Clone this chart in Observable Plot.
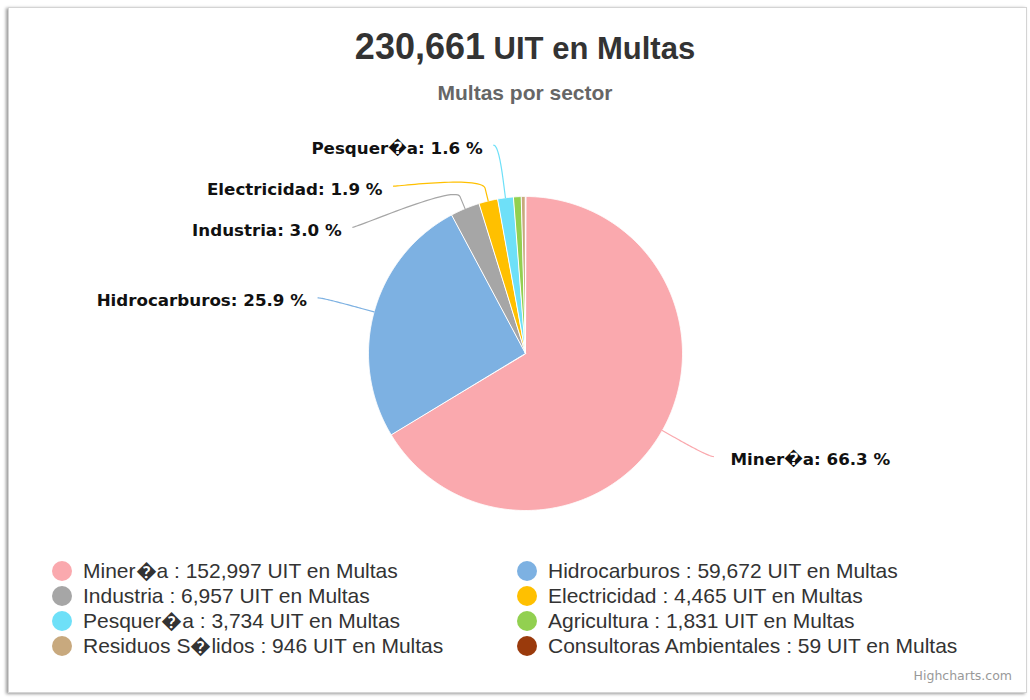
<!DOCTYPE html>
<html>
<head>
<meta charset="utf-8">
<script src="https://cdn.jsdelivr.net/npm/d3@7"></script>
<script src="https://cdn.jsdelivr.net/npm/@observablehq/plot@0.6"></script>
<style>
  html, body { margin: 0; padding: 0; background: #fff; }
  #page { position: relative; width: 1030px; height: 700px; overflow: hidden; background: #fff; }
  #frame { position: absolute; left: 8px; top: 7px; width: 1017px; height: 684px;
           border: 1px solid #d4d4d4; box-shadow: -2px 1px 3px rgba(0,0,0,0.4); }
  #title { position: absolute; left: 525px; top: 27px; transform: translateX(-50%); white-space: nowrap;
           font-family: "Liberation Sans", Arial, sans-serif; font-weight: bold; color: #333;
           font-size: 31px; line-height: 40px; }
  #title .num { font-size: 36px; }
  #subtitle { position: absolute; left: 525px; top: 81px; transform: translateX(-50%); white-space: nowrap;
              font-family: "Liberation Sans", Arial, sans-serif; font-weight: bold; color: #666;
              font-size: 21px; line-height: 24px; }
  #chart { position: absolute; left: 0; top: 125px; }
  #legend { position: absolute; left: 0; top: 558px; width: 1030px; }
  .item { position: absolute; height: 25px; font-family: "Liberation Sans", Arial, sans-serif;
          font-size: 21px; color: #333; line-height: 25px; white-space: nowrap; }
  .item .dot { position: absolute; left: 0; top: 2.5px; width: 20px; height: 20px; border-radius: 50%; }
  .item .txt { position: absolute; left: 31px; top: 0; }
  #credit { position: absolute; right: 18px; top: 668px; font-family: "DejaVu Sans", sans-serif;
            font-size: 12.5px; color: #999; }
</style>
</head>
<body>
<div id="page">
  <div id="frame"></div>
  <div id="title"></div>
  <div id="subtitle"></div>
  <div id="chart"></div>
  <div id="legend"></div>
  <div id="credit">Highcharts.com</div>
</div>
<script>
// ---- data ----
const sectors = ["Miner\uFFFDa", "Hidrocarburos", "Industria", "Electricidad", "Pesquer\uFFFDa",
                 "Agricultura", "Residuos S\uFFFDlidos", "Consultoras Ambientales"];
const multas = [152997, 59672, 6957, 4465, 3734, 1831, 946, 59];
const colors = ["#faa9ae", "#7db1e2", "#a6a6a6", "#ffc000", "#6ee0f8", "#92d050", "#c8a97e", "#9a3a0c"];
const unit = "UIT en Multas";
const subtitle = "Multas por sector";

// ---- layout constants ----
const W = 1030, H = 420;
const cx = 525, cy = 228;        // pie centre inside the svg
const r = 157;                   // pie radius
const labelR = r + 53;           // data label distance
const breakR = r + 13;           // connector break distance
const spacing = 41;              // min vertical gap between labels

const total = d3.sum(multas);
const fmt = d3.format(",");
document.getElementById("title").innerHTML = `<span class="num">${fmt(total)}</span> ${unit}`;
document.getElementById("subtitle").textContent = subtitle;

const arcs = d3.pie().sort(null).value(d => d)(multas);
const pt = (a, rad) => ({x: rad * Math.sin(a), y: -rad * Math.cos(a)});

// slice polygons
const slicePts = [];
arcs.forEach((a, i) => {
  const name = sectors[i];
  slicePts.push({name, x: 0, y: 0});
  const n = Math.max(2, Math.ceil((a.endAngle - a.startAngle) / 0.005));
  for (let k = 0; k <= n; k++) {
    const ang = a.startAngle + (a.endAngle - a.startAngle) * k / n;
    slicePts.push({name, ...pt(ang, r)});
  }
});

// data labels (Highcharts-like placement)
const labels = arcs.map((a, i) => {
  const mid = (a.startAngle + a.endAngle) / 2;
  const pct = multas[i] / total * 100;
  return {name: sectors[i], mid, pct, left: mid > Math.PI,
          natY: pt(mid, labelR).y, text: `${sectors[i]}: ${pct.toFixed(1)} %`};
}).filter(d => d.pct >= 1);

for (const side of [true, false]) {
  const group = labels.filter(d => d.left === side).sort((a, b) => a.natY - b.natY);
  let prev = -Infinity;
  for (const d of group) {
    d.y = Math.max(d.natY, prev + spacing);
    prev = d.y;
    const dx = Math.sqrt(Math.max(0, labelR * labelR - d.y * d.y));
    d.x = (side ? -1 : 1) * (dx + 5);
  }
}

// connectors: soft curve from label to break point, then line to slice edge
const connPts = [];
for (const d of labels) {
  const B = pt(d.mid, breakR), T = pt(d.mid, r);
  const P0 = {x: d.x, y: d.y};
  const P1 = {x: d.x + (d.left ? 5 : -5), y: d.y};
  const P2 = {x: 2 * B.x - T.x, y: 2 * B.y - T.y};
  const P3 = B;
  const n = 30;
  for (let k = 0; k <= n; k++) {
    const t = k / n, u = 1 - t;
    connPts.push({name: d.name,
      x: u*u*u*P0.x + 3*u*u*t*P1.x + 3*u*t*t*P2.x + t*t*t*P3.x,
      y: u*u*u*P0.y + 3*u*u*t*P1.y + 3*u*t*t*P2.y + t*t*t*P3.y});
  }
  connPts.push({name: d.name, x: T.x, y: T.y});
}

const labelFont = {fontFamily: "DejaVu Sans, sans-serif", fontWeight: "bold", fontSize: 16.7, fill: "#111"};

const chart = Plot.plot({
  width: W, height: H,
  margin: 0,
  x: {domain: [-cx, W - cx], range: [0, W], axis: null},
  y: {domain: [-cy, H - cy], range: [0, H], axis: null},
  color: {type: "ordinal", domain: sectors, range: colors},
  style: {background: "transparent", overflow: "visible"},
  marks: [
    Plot.line(slicePts, {x: "x", y: "y", z: "name", fill: "name", stroke: "white",
                         strokeWidth: 1, strokeLinejoin: "round", curve: "linear-closed"}),
    Plot.line(connPts, {x: "x", y: "y", z: "name", stroke: "name", strokeWidth: 1.2}),
    Plot.text(labels.filter(d => d.left), {x: "x", y: "y", text: "text", textAnchor: "end",
                                           dx: -11, dy: 3, ...labelFont}),
    Plot.text(labels.filter(d => !d.left), {x: "x", y: "y", text: "text", textAnchor: "start",
                                            dx: 17, dy: 3, ...labelFont})
  ]
});
document.getElementById("chart").appendChild(chart);

// legend (two columns, row-major)
const legend = document.getElementById("legend");
const colX = [52, 517];
sectors.forEach((s, i) => {
  const item = document.createElement("div");
  item.className = "item";
  item.style.left = colX[i % 2] + "px";
  item.style.top = (Math.floor(i / 2) * 25) + "px";
  item.innerHTML = `<span class="dot" style="background:${colors[i]}"></span><span class="txt"></span>`;
  item.querySelector(".txt").textContent = `${s} : ${fmt(multas[i])} ${unit}`;
  legend.appendChild(item);
});
</script>
</body>
</html>
